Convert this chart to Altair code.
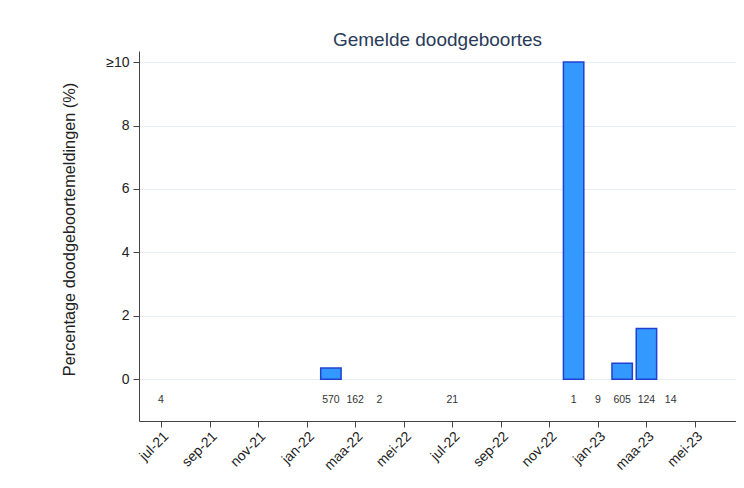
import altair as alt
import pandas as pd

# Month axis: index 0 = jul-21
all_months = ["jul-21", "aug-21", "sep-21", "okt-21", "nov-21", "dec-21",
              "jan-22", "feb-22", "maa-22", "apr-22", "mei-22", "jun-22",
              "jul-22", "aug-22", "sep-22", "okt-22", "nov-22", "dec-22",
              "jan-23", "feb-23", "maa-23", "apr-23", "mei-23", "jun-23"]
tick_labels = ["jul-21", "sep-21", "nov-21", "jan-22", "maa-22", "mei-22",
               "jul-22", "sep-22", "nov-22", "jan-23", "maa-23", "mei-23"]

# Reported months, number of reports and % stillbirth reports (capped at 10)
report_months = ["jul-21", "feb-22", "maa-22", "apr-22", "jul-22",
                 "dec-22", "jan-23", "feb-23", "maa-23", "apr-23"]
report_counts = [4, 570, 162, 2, 21, 1, 9, 605, 124, 14]
pct_stillbirth = [0, 0.35, 0, 0, 0, 10, 0, 0.5, 1.6, 0]

idx = [all_months.index(m) for m in report_months]
df = pd.DataFrame({
    "month": report_months,
    "idx": idx,
    "count": report_counts,
    "pct": pct_stillbirth,
})
df["x0"] = df["idx"] - 0.42
df["x1"] = df["idx"] + 0.42
df["base"] = 0.0
df["label_y"] = -0.66

tick_vals = [all_months.index(m) for m in tick_labels]
label_map = "{" + ",".join(f"'{v}':'{l}'" for v, l in zip(tick_vals, tick_labels)) + "}"

FONT = "Liberation Sans"

xscale = alt.Scale(domain=[-0.906, 23.69], nice=False, zero=False)
yscale = alt.Scale(domain=[-1.32, 10.35], nice=False, zero=False)

xaxis = alt.Axis(
    values=tick_vals,
    labelExpr=f"{label_map}[datum.value]",
    labelAngle=-45, labelAlign="right", labelBaseline="top",
    labelFontSize=14, labelColor="#222", labelFont=FONT, labelPadding=2,
    tickSize=6, tickColor="#444", domainColor="#444",
    grid=False, title=None,
)
yaxis = alt.Axis(
    values=[0, 2, 4, 6, 8, 10],
    labelExpr="datum.value >= 10 ? '≥10' : datum.label",
    labelFontSize=14, labelColor="#222", labelFont=FONT, labelPadding=4,
    tickSize=6, tickColor="#444", domainColor="#444",
    grid=True, gridColor="#e6eef3", gridWidth=1.2,
    title="Percentage doodgeboortemeldingen (%)",
    titleFont=FONT, titleFontSize=16.3, titleFontWeight="normal", titleColor="#222",
    titleAngle=-90, titleX=-70, titleY=178, titleAlign="center", titleBaseline="middle",
)

base = alt.Chart(df)

bars = base.transform_filter("datum.pct > 0").mark_rect(
    fill="#3399ff", stroke="#2040d0", strokeWidth=1.5
).encode(
    x=alt.X("x0:Q", scale=xscale, axis=xaxis),
    x2="x1:Q",
    y=alt.Y("base:Q", scale=yscale, axis=yaxis),
    y2="pct:Q",
)

labels = base.mark_text(
    font=FONT, fontSize=10.5, color="#333", baseline="middle", align="center"
).encode(
    x=alt.X("idx:Q", scale=xscale),
    y=alt.Y("label_y:Q", scale=yscale),
    text="count:Q",
)

chart = alt.layer(bars, labels).properties(
    width=597, height=370,
    title=alt.TitleParams(
        "Gemelde doodgeboortes", font=FONT, fontSize=19, fontWeight="normal",
        color="#2a3b5a", anchor="middle", baseline="alphabetic", offset=6, dy=20,
    ),
    autosize=alt.AutoSizeParams(type="none"),
    padding={"left": 131, "top": 43, "right": 0, "bottom": 59},
).configure(background="white").configure_view(stroke=None)

chart.save("out.html", embed_options={"renderer": "svg", "actions": False})
